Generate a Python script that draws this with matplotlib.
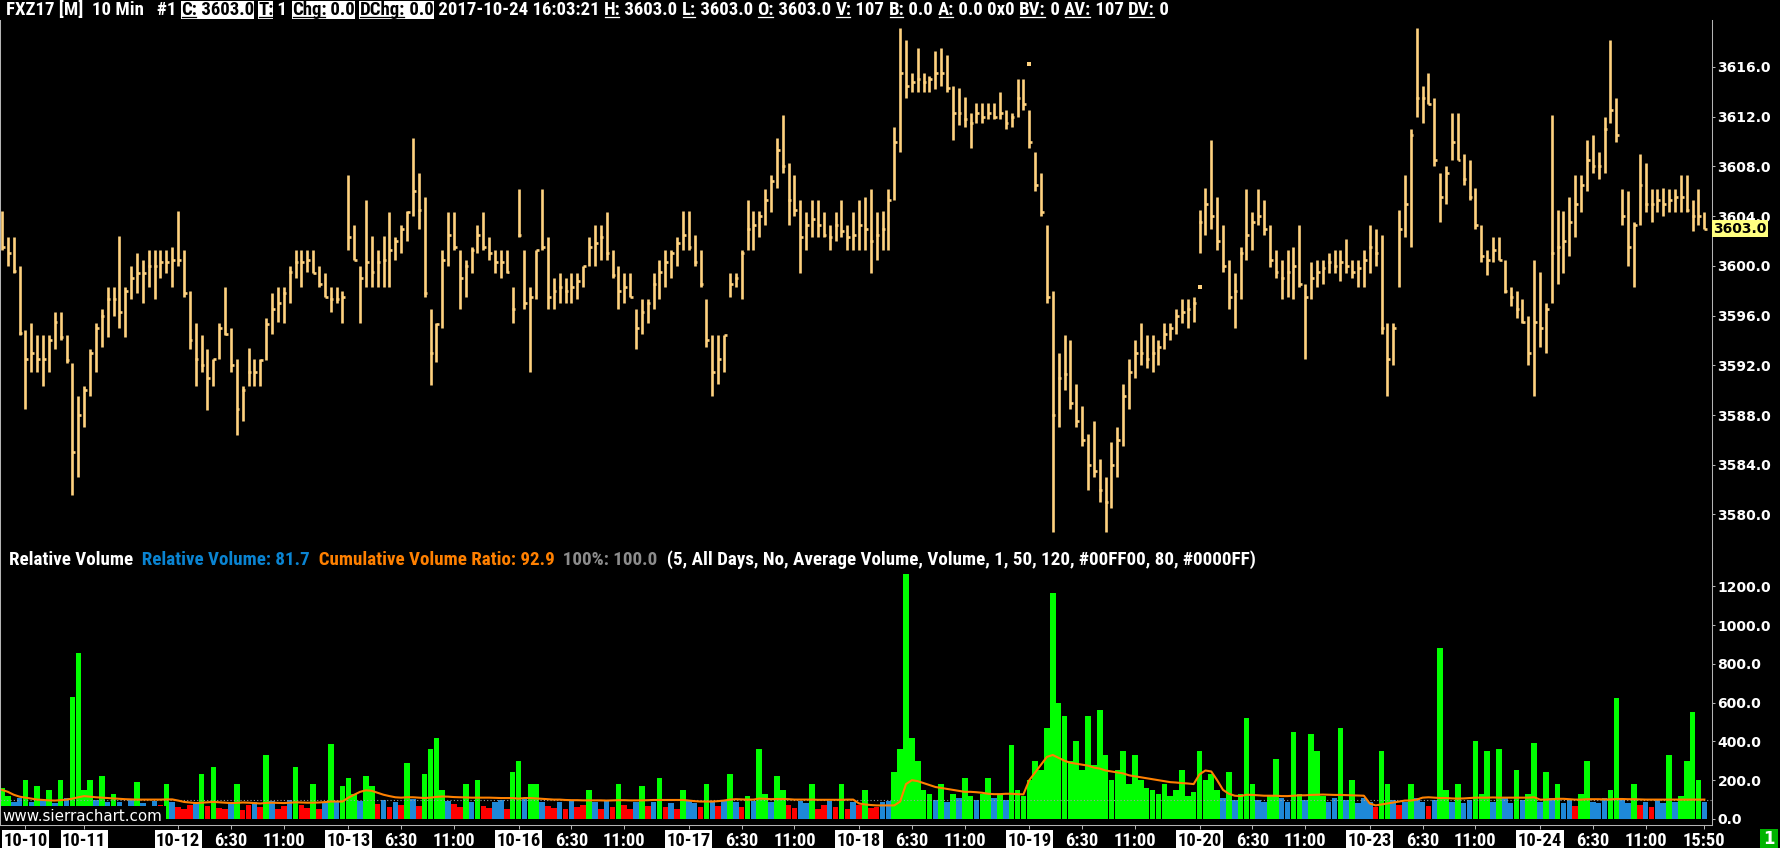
import matplotlib
matplotlib.use('Agg')
import matplotlib.pyplot as plt
from matplotlib import font_manager
from matplotlib.patches import Rectangle
from matplotlib.lines import Line2D
import matplotlib.transforms as mtransforms

# ---------------- data (30-minute bins) ----------------
highs = [3604.4, 3602.3, 3602.3, 3600.0, 3594.8, 3595.4, 3594.4, 3594.4, 3594.4, 3596.3,
         3596.3, 3594.4, 3592.2, 3589.5, 3590.3, 3593.3, 3595.4, 3596.5, 3598.3, 3598.3,
         3602.4, 3598.3, 3600.0, 3601.0, 3600.5, 3601.3, 3601.3, 3601.3, 3601.3, 3601.5,
         3604.4, 3601.3, 3598.0, 3595.4, 3594.4, 3593.3, 3592.5, 3595.4, 3598.3, 3595.0,
         3592.5, 3590.3, 3593.4, 3592.5, 3592.5, 3595.8, 3597.8, 3598.3, 3598.3, 3600.0,
         3601.3, 3601.3, 3601.3, 3601.3, 3600.0, 3599.4, 3598.3, 3598.3, 3598.0, 3607.3,
         3603.3, 3600.0, 3605.3, 3602.4, 3601.3, 3602.4, 3604.3, 3602.3, 3603.3, 3604.4,
         3610.3, 3607.5, 3605.5, 3596.5, 3595.4, 3601.3, 3604.3, 3604.3, 3601.3, 3600.5,
         3601.5, 3603.3, 3604.3, 3602.3, 3601.3, 3601.3, 3601.3, 3598.3, 3606.2, 3601.3,
         3598.3, 3601.3, 3606.2, 3602.3, 3599.0, 3599.4, 3599.0, 3599.4, 3599.4, 3600.0,
         3602.3, 3603.3, 3603.3, 3604.3, 3601.3, 3600.0, 3599.4, 3599.4, 3596.5, 3597.3,
         3597.3, 3599.4, 3600.5, 3601.3, 3601.3, 3602.3, 3604.4, 3604.4, 3602.5, 3601.3,
         3597.3, 3594.4, 3594.4, 3594.4, 3599.4, 3599.4, 3601.3, 3605.3, 3604.4, 3604.4,
         3606.2, 3607.3, 3610.3, 3612.1, 3608.3, 3607.3, 3605.3, 3604.3, 3605.3, 3605.3,
         3604.3, 3603.3, 3604.3, 3605.3, 3603.3, 3604.3, 3605.3, 3605.5, 3606.2, 3604.3,
         3604.4, 3606.2, 3611.2, 3619.1, 3618.2, 3615.5, 3617.5, 3615.5, 3615.3, 3617.3,
         3617.5, 3617.0, 3614.5, 3614.3, 3613.6, 3612.3, 3613.1, 3613.1, 3613.1, 3613.1,
         3614.0, 3612.5, 3612.3, 3615.0, 3615.0, 3612.5, 3609.2, 3607.5, 3603.3, 3598.0,
         3593.0, 3594.4, 3594.0, 3590.5, 3588.7, 3586.5, 3587.5, 3584.5, 3583.0, 3585.8,
         3587.0, 3590.5, 3592.5, 3594.0, 3595.4, 3594.4, 3594.4, 3594.0, 3595.4, 3595.4,
         3596.5, 3597.3, 3597.3, 3597.5, 3604.5, 3606.3, 3610.1, 3605.5, 3603.3, 3600.5,
         3599.4, 3601.5, 3606.2, 3604.3, 3606.2, 3605.3, 3603.3, 3601.3, 3600.5, 3601.3,
         3601.5, 3603.3, 3598.5, 3600.3, 3600.5, 3600.5, 3601.0, 3601.3, 3601.3, 3602.2,
         3600.5, 3600.5, 3601.3, 3603.3, 3603.0, 3602.5, 3595.4, 3595.4, 3604.5, 3607.3,
         3611.0, 3619.1, 3614.5, 3615.5, 3613.5, 3607.5, 3608.0, 3612.3, 3612.3, 3609.0,
         3608.5, 3606.3, 3603.3, 3601.3, 3602.3, 3602.3, 3600.5, 3598.3, 3598.0, 3597.3,
         3596.0, 3600.5, 3599.5, 3597.0, 3612.1, 3604.5, 3604.4, 3605.5, 3607.3, 3607.3,
         3610.1, 3610.5, 3609.2, 3612.0, 3618.2, 3613.5, 3606.2, 3606.0, 3603.5, 3609.0,
         3608.3, 3606.2, 3606.2, 3606.3, 3606.2, 3606.2, 3607.3, 3607.3, 3605.3, 3606.2,
         3604.3]

lows = [3601.3, 3600.0, 3599.4, 3594.4, 3588.5, 3591.5, 3591.5, 3590.3, 3591.5, 3593.3,
        3594.0, 3592.2, 3581.6, 3583.0, 3587.0, 3589.5, 3591.5, 3593.5, 3594.3, 3596.0,
        3595.0, 3594.3, 3597.3, 3597.8, 3597.0, 3598.3, 3597.3, 3599.0, 3599.4, 3598.3,
        3600.0, 3597.5, 3593.3, 3590.3, 3591.5, 3588.4, 3590.3, 3592.5, 3594.4, 3591.5,
        3586.4, 3587.5, 3590.3, 3590.3, 3590.3, 3592.4, 3594.5, 3595.5, 3595.4, 3597.0,
        3599.0, 3598.3, 3599.5, 3599.4, 3598.3, 3597.5, 3596.3, 3597.0, 3595.4, 3601.3,
        3600.5, 3595.4, 3598.3, 3598.3, 3598.3, 3598.3, 3598.3, 3600.5, 3601.0, 3602.0,
        3604.0, 3603.0, 3597.5, 3590.4, 3592.3, 3595.0, 3600.0, 3601.3, 3596.5, 3597.5,
        3599.4, 3601.0, 3601.3, 3600.5, 3599.4, 3599.0, 3599.4, 3595.4, 3602.3, 3596.5,
        3591.5, 3597.3, 3601.3, 3596.5, 3596.5, 3597.0, 3597.0, 3597.0, 3597.3, 3598.3,
        3600.0, 3600.0, 3600.5, 3600.5, 3599.0, 3596.5, 3597.0, 3597.5, 3593.3, 3594.5,
        3595.4, 3596.5, 3597.3, 3598.3, 3599.0, 3600.0, 3601.3, 3601.3, 3600.0, 3598.3,
        3593.5, 3589.5, 3590.5, 3591.5, 3597.5, 3598.3, 3597.3, 3601.3, 3601.3, 3602.3,
        3603.3, 3604.3, 3606.3, 3607.5, 3603.3, 3604.0, 3599.4, 3601.3, 3602.3, 3602.3,
        3602.3, 3601.3, 3602.0, 3602.3, 3601.3, 3601.3, 3601.3, 3601.3, 3599.4, 3600.5,
        3601.3, 3601.3, 3605.3, 3609.2, 3613.5, 3614.0, 3614.0, 3614.0, 3614.0, 3614.2,
        3614.5, 3614.0, 3610.1, 3611.3, 3611.2, 3609.5, 3611.5, 3611.5, 3611.8, 3611.8,
        3611.8, 3611.0, 3611.2, 3612.0, 3612.5, 3609.5, 3606.0, 3604.0, 3597.0, 3578.6,
        3587.0, 3590.0, 3588.5, 3587.0, 3585.5, 3582.0, 3583.0, 3581.0, 3578.6, 3580.5,
        3583.0, 3585.5, 3588.5, 3591.0, 3592.0, 3591.8, 3591.5, 3592.0, 3593.3, 3594.0,
        3594.5, 3595.4, 3595.0, 3595.5, 3601.0, 3602.5, 3603.0, 3601.3, 3599.5, 3596.5,
        3595.0, 3597.3, 3600.5, 3601.3, 3603.3, 3602.5, 3599.9, 3599.0, 3597.3, 3597.5,
        3597.3, 3598.3, 3592.5, 3597.3, 3598.3, 3598.5, 3599.4, 3599.4, 3598.8, 3599.4,
        3599.0, 3598.3, 3598.3, 3599.4, 3600.0, 3594.5, 3589.5, 3592.0, 3598.3, 3602.3,
        3601.5, 3612.0, 3611.5, 3613.0, 3608.0, 3603.5, 3605.0, 3608.5, 3608.5, 3606.5,
        3605.3, 3603.0, 3600.3, 3599.3, 3600.3, 3600.5, 3597.8, 3596.8, 3595.8, 3595.4,
        3592.0, 3589.5, 3593.5, 3593.0, 3597.0, 3598.5, 3599.4, 3600.8, 3602.3, 3604.3,
        3606.0, 3607.5, 3607.0, 3607.5, 3611.5, 3610.0, 3603.3, 3600.0, 3598.3, 3603.3,
        3604.3, 3603.5, 3604.3, 3604.0, 3604.3, 3604.3, 3604.3, 3604.3, 3602.8, 3603.3,
        3603.0]

closes = [3601.5, 3601.0, 3599.6, 3594.6, 3592.5, 3593.0, 3592.5, 3592.5, 3594.0, 3595.5,
          3594.3, 3592.4, 3585.0, 3588.0, 3590.0, 3593.0, 3595.0, 3596.0, 3597.3, 3597.3,
          3596.3, 3598.0, 3599.0, 3599.4, 3599.4, 3600.0, 3600.0, 3600.3, 3600.3, 3600.5,
          3600.5, 3597.8, 3594.0, 3592.5, 3592.0, 3591.0, 3592.5, 3595.0, 3594.5, 3592.0,
          3588.5, 3590.0, 3591.5, 3591.5, 3592.4, 3595.3, 3596.5, 3597.0, 3597.8, 3599.5,
          3600.3, 3600.3, 3600.5, 3599.4, 3598.5, 3597.5, 3597.3, 3597.3, 3597.5, 3602.3,
          3600.5, 3599.0, 3600.3, 3599.5, 3600.3, 3600.5, 3601.3, 3602.0, 3603.0, 3604.3,
          3606.0, 3604.5, 3597.8, 3593.0, 3595.3, 3600.5, 3602.5, 3601.5, 3599.0, 3600.0,
          3601.3, 3602.5, 3601.5, 3601.0, 3600.3, 3600.3, 3599.5, 3596.5, 3602.5, 3597.0,
          3597.5, 3601.3, 3601.5, 3597.5, 3598.0, 3598.3, 3598.0, 3598.3, 3598.8, 3600.0,
          3601.5, 3601.8, 3602.3, 3601.0, 3599.3, 3598.0, 3598.3, 3597.5, 3595.0, 3596.3,
          3597.0, 3598.5, 3599.5, 3600.3, 3601.0, 3601.8, 3602.5, 3601.5, 3600.3, 3598.5,
          3594.0, 3591.5, 3592.5, 3594.4, 3598.5, 3599.0, 3601.0, 3603.0, 3603.3, 3604.0,
          3605.3, 3606.8, 3609.3, 3608.0, 3605.3, 3604.5, 3602.3, 3603.3, 3603.8, 3603.3,
          3602.5, 3602.3, 3603.3, 3602.8, 3602.3, 3602.5, 3603.3, 3603.0, 3602.0, 3602.5,
          3603.0, 3605.3, 3610.0, 3615.5, 3614.5, 3614.8, 3615.0, 3614.8, 3615.0, 3615.5,
          3615.5, 3614.3, 3612.3, 3612.3, 3611.8, 3611.5, 3612.3, 3612.0, 3612.3, 3612.0,
          3612.3, 3611.5, 3612.0, 3613.5, 3613.0, 3610.0, 3606.5, 3604.3, 3597.5, 3588.0,
          3591.0, 3591.3, 3589.0, 3587.5, 3586.0, 3584.0, 3583.5, 3582.0, 3581.0, 3584.0,
          3586.0, 3589.5, 3591.5, 3593.0, 3593.0, 3592.5, 3593.0, 3593.5, 3594.5, 3595.0,
          3596.0, 3596.3, 3596.5, 3597.0, 3603.5, 3605.0, 3604.0, 3602.0, 3600.0, 3597.5,
          3598.0, 3601.0, 3602.5, 3603.5, 3604.0, 3603.0, 3600.5, 3599.5, 3599.0, 3599.5,
          3600.0, 3598.5, 3597.5, 3599.0, 3599.5, 3599.8, 3600.3, 3600.0, 3600.3, 3600.0,
          3599.5, 3599.8, 3600.5, 3601.5, 3601.0, 3595.0, 3592.5, 3595.0, 3603.0, 3605.0,
          3610.5, 3613.5, 3613.5, 3613.0, 3608.5, 3605.5, 3607.5, 3610.0, 3608.5, 3607.0,
          3605.5, 3603.3, 3600.8, 3600.5, 3601.3, 3600.5, 3598.0, 3597.5, 3596.5, 3595.5,
          3593.0, 3595.5, 3595.0, 3596.5, 3601.0, 3601.5, 3602.0, 3603.5, 3605.0, 3606.5,
          3608.5, 3608.0, 3608.0, 3611.0, 3612.5, 3610.5, 3604.0, 3601.5, 3603.3, 3606.5,
          3605.0, 3605.0, 3605.3, 3605.0, 3605.3, 3605.5, 3605.5, 3604.5, 3604.0, 3604.0,
          3603.0]

# two isolated single-print bars visible in the chart
stray_idx = [175, 204]
stray_price = [3616.2, 3598.3]

rel_volume = [160, 120, 90, 110,
              200, 90, 170, 100, 150, 80, 200, 110, 630, 855,
              150, 200, 100, 220, 85, 130, 90, 60, 100, 190, 80, 55, 95, 70, 180, 85,
              60, 50, 70, 85, 230, 65, 270, 55, 50, 90, 180, 45, 70, 85, 60, 330, 95, 50, 65, 100,
              270, 70, 55, 180, 50, 85, 385, 90, 170,
              210, 130, 95, 220, 170, 75, 100, 60, 85, 70, 290, 105, 65, 230, 360, 415, 150, 95, 75, 60,
              180, 90, 200, 65, 55, 85, 100, 50, 240,
              300, 110, 180, 180, 90, 65, 55, 85, 50, 100, 60, 70, 150, 85, 50, 95, 60, 180, 70, 50,
              85, 170, 65, 90, 210, 60, 80, 50, 150,
              100, 80, 60, 180, 90, 65, 100, 230, 85, 60, 120, 95, 360, 130, 85, 220, 150, 70, 55, 95,
              80, 180, 50, 70, 95, 60, 180, 50, 85,
              70, 150, 55, 60, 85, 95, 240, 360, 1265, 415, 300, 150, 130, 100, 180, 90, 130, 110, 210, 120,
              100, 130, 210, 110, 130, 100, 380, 150, 120,
              200, 300, 250, 470, 1165, 600, 530, 300, 400, 250, 530, 280, 560, 330, 200, 250, 350, 180, 330, 200,
              160, 150, 130, 180, 120, 150, 250, 120, 140,
              350, 200, 230, 150, 110, 240, 100, 130, 520, 180, 100, 90, 120, 310, 110, 90, 450, 130, 100, 440,
              350, 120, 90, 110, 470, 100, 200, 80, 110,
              85, 60, 350, 180, 100, 70, 90, 180, 110, 85, 65, 100, 880, 150, 90, 180, 80, 100, 400, 130,
              350, 90, 360, 110, 80, 250, 100, 130, 390,
              90, 240, 110, 180, 80, 100, 65, 130, 300, 90, 80, 110, 150, 625, 100, 80, 180, 70, 90, 60,
              100, 80, 330, 90, 120, 300, 550, 200, 85]

cum_ratio = [150, 140, 125, 115,
             110, 105, 100, 98, 96, 95, 97, 100, 105, 112,
             118, 115, 112, 110, 108, 106, 104, 102, 101, 100, 100, 100, 100, 100, 101, 101,
             95, 88, 85, 82, 84, 86, 88, 86, 84, 82, 83, 85, 84, 82, 80, 83, 84, 83, 82, 84,
             86, 85, 84, 84, 85, 87, 90, 90, 90,
             110, 125, 140, 148, 145, 135, 125, 118, 112, 110, 112, 112, 110, 108, 110, 114, 116, 115, 113, 112,
             111, 110, 110, 110, 110, 109, 108, 108, 108,
             105, 108, 108, 106, 104, 102, 100, 100, 98, 97, 97, 96, 96, 96, 96, 95, 96, 97, 97, 96,
             96, 96, 97, 98, 98, 98, 98, 98, 98,
             95, 92, 90, 90, 90, 92, 95, 100, 102, 101, 100, 100, 105, 104, 102, 103, 103, 102, 100, 100,
             100, 100, 99, 99, 99, 99, 99, 100, 100,
             80, 75, 72, 70, 70, 70, 70, 90, 180, 200, 195, 185, 175, 165, 160, 155, 150, 145, 140, 140,
             138, 135, 130, 128, 128, 130, 130, 128, 127,
             200, 240, 280, 320, 330, 315, 300, 290, 285, 280, 275, 265, 260, 250, 245, 240, 235, 225, 220, 215,
             210, 205, 200, 195, 190, 188, 185, 183, 180,
             230, 250, 245, 200, 150, 130, 120, 118, 125, 124, 122, 120, 120, 120, 118, 118, 120, 122, 122, 124,
             125, 126, 125, 124, 124, 123, 122, 121, 120,
             80, 70, 75, 80, 85, 90, 95, 95, 100, 110, 112, 110, 108, 108, 106, 105, 106, 108, 110, 110,
             110, 111, 110, 110, 110, 110, 110, 110, 112,
             100, 100, 102, 104, 104, 102, 100, 100, 102, 102, 102, 101, 101, 103, 103, 102, 102, 101, 100, 100,
             100, 100, 100, 100, 100, 100, 100, 100, 100]

tick_idx = [4, 14, 30, 39, 48, 59, 68, 77, 88, 97, 106, 117, 126, 135, 146, 155, 164,
            175, 184, 193, 204, 213, 222, 233, 242, 251, 262, 271, 280, 290]
tick_labels = ['10-10', '10-11', '10-12', '6:30', '11:00', '10-13', '6:30', '11:00', '10-16',
               '6:30', '11:00', '10-17', '6:30', '11:00', '10-18', '6:30', '11:00', '10-19',
               '6:30', '11:00', '10-20', '6:30', '11:00', '10-23', '6:30', '11:00', '10-24',
               '6:30', '11:00', '15:50']
last_price = 3603.0
price_ticks = [3580, 3584, 3588, 3592, 3596, 3600, 3604, 3608, 3612, 3616]
volume_ticks = [0, 200, 400, 600, 800, 1000, 1200]

# ---------------- styling ----------------
W, H, DPI = 1781, 848, 100
BG = 'black'
GRID = '#B4B4B4'
TAN = '#FFD27F'
GREEN = '#00FF00'
BLUE = '#1E88D8'
RED = '#FF0000'
ORANGE = '#FF8000'
AXF = 'DejaVu Sans'

# pick a condensed font if one is installed
pref = ['Roboto Condensed', 'Liberation Sans Narrow', 'DejaVu Sans Condensed',
        'Archivo Narrow', 'Asap Condensed', 'Noto Sans Condensed', 'Open Sans Condensed']
cands = []
for f in font_manager.fontManager.ttflist:
    st = str(f.stretch)
    if ('Narrow' in f.name or 'Condensed' in f.name
            or st in ('condensed', 'semi-condensed', 'extra-condensed', 'ultra-condensed')):
        cands.append((f.name, st))
NARROW_KW = dict(fontfamily='DejaVu Sans')
for p in pref:
    hit = [c for c in cands if c[0] == p]
    if hit:
        NARROW_KW = dict(fontfamily=hit[0][0], fontstretch=hit[0][1])
        break
else:
    if cands:
        NARROW_KW = dict(fontfamily=cands[0][0], fontstretch=cands[0][1])

fig = plt.figure(figsize=(W / DPI, H / DPI), dpi=DPI, facecolor=BG)


def px_axes(x0, y0, x1, y1):
    return fig.add_axes([x0 / W, 1 - y1 / H, (x1 - x0) / W, (y1 - y0) / H])


ax = px_axes(0, 20, 1712, 548)
ax2 = px_axes(0, 548, 1712, 825)
n = len(highs)
idx = list(range(n))
xlim = (-0.34, 291.3)

for a in (ax, ax2):
    a.set_facecolor(BG)
    a.set_xlim(*xlim)
    for s in a.spines.values():
        s.set_visible(False)
    for side in ('right', 'left'):
        a.spines[side].set_visible(True)
        a.spines[side].set_color(GRID)
        a.spines[side].set_linewidth(0.75)
    a.yaxis.tick_right()
    a.tick_params(axis='y', colors=GRID, labelcolor='white', length=2.5, width=0.75, pad=1.5)

ax2.spines['bottom'].set_visible(True)
ax2.spines['bottom'].set_color(GRID)
ax2.spines['bottom'].set_linewidth(0.75)

# price panel: OHLC-style bars (high-low line with close tick)
ax.set_ylim(3577.3, 3619.78)
ax.vlines(idx, lows, highs, colors=TAN, linewidth=1.9)
ax.hlines(closes, [i - 0.05 for i in idx], [i + 0.45 for i in idx], colors=TAN, linewidth=1.9)
ax.scatter(stray_idx, stray_price, s=5, marker='s', color=TAN, linewidths=0)
ax.set_xticks([])
ax.set_yticks(price_ticks)
ax.set_yticklabels([f'{v:.1f}' for v in price_ticks], fontfamily=AXF, fontweight='bold', fontsize=10)
tr = mtransforms.blended_transform_factory(ax.transAxes, ax.transData)
ax.text(1.0008, last_price, f'{last_price:.1f}', transform=tr, ha='left', va='center',
        fontfamily=AXF, fontweight='bold', fontsize=10, color='black', clip_on=False,
        bbox=dict(facecolor='#FFFF80', edgecolor='none', pad=1.2), zorder=5)

# volume panel
ax2.set_ylim(-31, 1397)
cols = [GREEN if v >= 120 else (BLUE if v >= 80 else RED) for v in rel_volume]
ax2.bar(idx, rel_volume, width=0.95, color=cols, linewidth=0)
ax2.axhline(100, color='#A0A0A0', linestyle=(0, (1, 2)), linewidth=0.8)
ax2.plot(idx, cum_ratio, color=ORANGE, linewidth=1.5)
ax2.set_yticks(volume_ticks)
ax2.set_yticklabels([f'{v:.1f}' for v in volume_ticks], fontfamily=AXF, fontweight='bold', fontsize=10)

# ---------------- overlay texts in pixel coords ----------------
ov = fig.add_axes([0, 0, 1, 1], zorder=10)
ov.set_xlim(0, W)
ov.set_ylim(H, 0)
ov.axis('off')
ov.patch.set_visible(False)
renderer = fig.canvas.get_renderer()


def textw(s, **kw):
    t = ov.text(0, 0, '|' + s + '|', **kw)
    w1 = t.get_window_extent(renderer).width
    t.set_text('||')
    w2 = t.get_window_extent(renderer).width
    t.remove()
    return w1 - w2


# x tick labels sized so that a date label is ~44 px wide
fs_tick = 13 * 44 / textw('10-11', fontweight='bold', fontsize=13, **NARROW_KW)
ax2.set_xticks(tick_idx)
ax2.set_xticklabels(tick_labels, fontweight='bold', fontsize=fs_tick, **NARROW_KW)
ax2.tick_params(axis='x', colors=GRID, length=3, width=0.75, pad=2)
for lbl in ax2.get_xticklabels():
    if '-' in lbl.get_text():
        lbl.set_color('black')
        lbl.set_bbox(dict(facecolor='white', edgecolor='none', pad=1.0))
    else:
        lbl.set_color('white')


def draw_segments(x0, base, segs, fs, target_w=None, box_top=None, box_h=None):
    kw = dict(fontweight='bold', fontsize=fs, **NARROW_KW)
    if target_w is not None:
        tot = sum(textw(s, **kw) for s, _, _ in segs)
        kw['fontsize'] = fs * target_w / tot
    x = x0
    for s, style, color in segs:
        w = textw(s, **kw)
        c = color
        if 'b' in style:
            ov.add_patch(Rectangle((x, box_top), w, box_h, facecolor='white', edgecolor='none'))
            c = 'black'
        ov.text(x, base, s, color=c, ha='left', va='baseline', **kw)
        if 'u' in style:
            ov.add_line(Line2D([x + 1, x + w - 1], [base + 2, base + 2], color=c, linewidth=0.9))
        x += w


Wt = 'white'
title = [("FXZ17 [M]  10 Min   #1 ", '', Wt), ("C:", 'bu', Wt), (" 3603.0", 'b', Wt), (" ", '', Wt),
         ("T:", 'bu', Wt), (" 1 ", '', Wt), ("Chg:", 'bu', Wt), (" 0.0", 'b', Wt), (" ", '', Wt),
         ("DChg:", 'bu', Wt), (" 0.0", 'b', Wt), (" 2017-10-24 16:03:21 ", '', Wt),
         ("H:", 'u', Wt), (" 3603.0 ", '', Wt), ("L:", 'u', Wt), (" 3603.0 ", '', Wt),
         ("O:", 'u', Wt), (" 3603.0 ", '', Wt), ("V:", 'u', Wt), (" 107 ", '', Wt),
         ("B:", 'u', Wt), (" 0.0 ", '', Wt), ("A:", 'u', Wt), (" 0.0 0x0 ", '', Wt),
         ("BV:", 'u', Wt), (" 0 ", '', Wt), ("AV:", 'u', Wt), (" 107 ", '', Wt),
         ("DV:", 'u', Wt), (" 0", '', Wt)]
draw_segments(6, 15, title, 12.5, target_w=1165, box_top=1, box_h=18)

vol_header = [("Relative Volume", '', Wt), ("  Relative Volume: 81.7", '', '#0A84D2'),
              ("  Cumulative Volume Ratio: 92.9", '', ORANGE), ("  100%: 100.0", '', '#8C8C8C'),
              ("  (5, All Days, No, Average Volume, Volume, 1, 50, 120, #00FF00, 80, #0000FF)", '', Wt)]
draw_segments(9, 565, vol_header, 12.5, target_w=1249)

# watermark box
ov.add_patch(Rectangle((0.8, 806), 165, 19, facecolor='black', edgecolor='none'))
ww = textw('www.sierrachart.com', fontfamily=AXF, fontsize=11)
ov.text(2, 821, 'www.sierrachart.com', color='white', ha='left', va='baseline',
        fontfamily=AXF, fontsize=11 * 161 / ww)

# green box bottom-right
ov.add_patch(Rectangle((1760, 829), 18, 19, facecolor='#00B400', edgecolor='none'))
ov.text(1769, 839, '1', color='white', ha='center', va='center', fontfamily=AXF,
        fontweight='bold', fontsize=12)

fig.savefig('out.png', dpi=DPI, facecolor=BG)
